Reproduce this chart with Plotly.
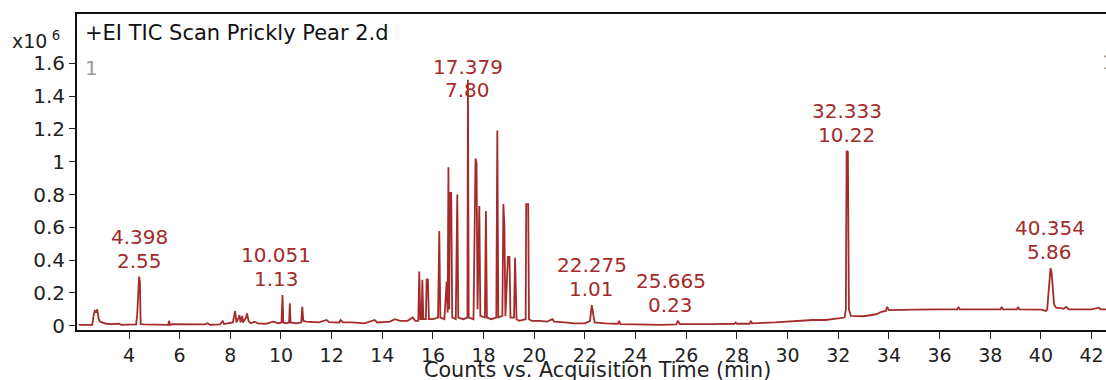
import plotly.graph_objects as go

# Chromatogram vertices: retention time (min) and intensity (x10^6 counts)
rt = [2.02, 2.55, 2.60, 2.65, 2.70, 2.74, 2.78, 2.80, 2.86, 2.95, 3.1, 3.3, 3.6, 3.7, 4.0, 4.28, 4.32, 4.36, 4.40, 4.43, 4.46,
      4.6, 5.0, 5.55, 5.58, 5.62, 5.7, 6.2, 6.5, 7.0, 7.1, 7.2, 7.6, 7.7, 7.75, 8.1, 8.19, 8.24, 8.33, 8.36, 8.40, 8.47, 8.50,
      8.62, 8.66, 8.72, 8.8, 8.95, 9.1, 9.4, 9.7, 9.9, 10.02, 10.06, 10.09, 10.2, 10.32, 10.35, 10.38, 10.6, 10.80, 10.84,
      10.88, 11.0, 11.5, 11.8, 11.9, 12.3, 12.35, 12.45, 12.8, 13.3, 13.7, 13.8, 14.3, 14.5, 14.7, 15.0, 15.2, 15.3, 15.42,
      15.46, 15.50, 15.55, 15.58, 15.62, 15.72, 15.75, 15.80, 15.84, 16.0, 16.2, 16.25, 16.29, 16.45, 16.54, 16.58, 16.61,
      16.64, 16.67, 16.72, 16.76, 16.9, 16.96, 17.0, 17.2, 17.36, 17.38, 17.41, 17.6, 17.68, 17.72, 17.76, 17.83, 17.87,
      18.05, 18.09, 18.13, 18.3, 18.5, 18.54, 18.58, 18.74, 18.78, 18.82, 18.86, 18.96, 19.02, 19.06, 19.2, 19.24, 19.30,
      19.4, 19.66, 19.68, 19.76, 19.79, 19.9, 20.2, 20.5, 20.72, 20.78, 21.2, 21.6, 22.0, 22.2, 22.27, 22.32, 22.38, 22.8,
      23.3, 23.35, 23.4, 24.0, 24.5, 25.0, 25.6, 25.67, 25.75, 26.5, 27.0, 27.9, 27.95, 28.0, 28.5, 28.55, 28.6, 29.5,
      30.0, 30.5, 31.0, 31.5, 32.0, 32.25, 32.30, 32.33, 32.38, 32.42, 32.5, 33.0, 33.5, 33.7, 33.88, 33.93, 34.0, 34.5,
      35.0, 36.0, 36.7, 36.75, 36.8, 38.0, 38.40, 38.45, 38.5, 39.05, 39.1, 39.15, 40.0, 40.2, 40.25, 40.3, 40.38, 40.42,
      40.47, 40.52, 40.6, 40.9, 41.0, 41.1, 42.0, 42.3, 42.35, 42.6]
intensity = [0.005, 0.005, 0.06, 0.09, 0.085, 0.10, 0.07, 0.04, 0.025, 0.02, 0.012, 0.01, 0.012, 0.005, 0.006, 0.008, 0.06,
             0.22, 0.30, 0.27, 0.01,
             0.008, 0.008, 0.005, 0.03, 0.005, 0.01, 0.008, 0.006, 0.008, 0.015, 0.006, 0.008, 0.03, 0.01, 0.02, 0.09,
             0.02, 0.05, 0.065, 0.02, 0.06, 0.02,
             0.05, 0.075, 0.03, 0.015, 0.025, 0.015, 0.012, 0.025, 0.015, 0.02, 0.187, 0.02, 0.015, 0.02, 0.137, 0.02,
             0.015, 0.02, 0.116,
             0.03, 0.025, 0.02, 0.035, 0.022, 0.02, 0.035, 0.02, 0.02, 0.015, 0.035, 0.02, 0.025, 0.04, 0.03, 0.03, 0.05,
             0.03, 0.03,
             0.33, 0.04, 0.04, 0.28, 0.04, 0.04, 0.285, 0.28, 0.04, 0.04, 0.05, 0.577, 0.05, 0.04, 0.27, 0.08, 0.966,
             0.1, 0.81, 0.81, 0.05, 0.04, 0.80, 0.05, 0.04, 0.05, 1.50, 0.05, 0.04, 1.02, 0.99, 0.1, 0.73, 0.06,
             0.05, 0.70, 0.05, 0.04, 0.05, 1.19, 0.05, 0.06, 0.742, 0.614, 0.06, 0.42, 0.42, 0.05, 0.05, 0.415, 0.04,
             0.03, 0.04, 0.742, 0.742, 0.04, 0.03, 0.03, 0.025, 0.04, 0.025, 0.02, 0.015, 0.015, 0.03, 0.126, 0.06, 0.02,
             0.015,
             0.012, 0.03, 0.01, 0.008, 0.005, 0.005, 0.008, 0.028, 0.01, 0.008, 0.01, 0.012, 0.02, 0.012, 0.012, 0.03,
             0.015, 0.02,
             0.025, 0.03, 0.035, 0.035, 0.045, 0.05, 0.1, 1.065, 1.06, 0.1, 0.06, 0.058, 0.07, 0.085, 0.09, 0.115, 0.095,
             0.095,
             0.098, 0.1, 0.1, 0.115, 0.1, 0.1, 0.1, 0.115, 0.1, 0.1, 0.115, 0.1, 0.098, 0.09, 0.1, 0.2, 0.35, 0.33,
             0.2, 0.13, 0.11, 0.105, 0.115, 0.1, 0.1, 0.11, 0.1, 0.1]

# Peak labels
label_rt = [4.398, 10.051, 17.379, 22.275, 25.665, 32.333, 40.354]
label_rt_text = ["4.398", "10.051", "17.379", "22.275", "25.665", "32.333", "40.354"]
label_area_text = ["2.55", "1.13", "7.80", "1.01", "0.23", "10.22", "5.86"]
label_peak_height = [0.30, 0.187, 1.50, 0.126, 0.028, 1.065, 0.35]

x_ticks = [4, 6, 8, 10, 12, 14, 16, 18, 20, 22, 24, 26, 28, 30, 32, 34, 36, 38, 40, 42]
y_ticks = [0, 0.2, 0.4, 0.6, 0.8, 1.0, 1.2, 1.4, 1.6]
y_tick_text = ["0", "0.2", "0.4", "0.6", "0.8", "1", "1.2", "1.4", "1.6"]
x_title = "Counts vs. Acquisition Time (min)"

RED = "#A52A2A"
FONT = "DejaVu Sans"

fig = go.Figure()
fig.add_trace(go.Scatter(x=rt, y=intensity, mode="lines",
                         line=dict(color=RED, width=1.8), hoverinfo="skip", showlegend=False))

# label offsets (pixels)
xshift = {10.051: -6, 25.665: -7}
for r, t1, t2, h in zip(label_rt, label_rt_text, label_area_text, label_peak_height):
    if r == 17.379:
        s1, s2 = 13, -10
    else:
        s1, s2 = 40, 16
    dx = xshift.get(r, 0)
    for txt, s in ((t1, s1), (t2, s2)):
        fig.add_annotation(x=r, y=h, xref="x", yref="y", text=txt, showarrow=False,
                           xanchor="center", yanchor="middle", yshift=s, xshift=dx,
                           font=dict(family=FONT, size=20, color=RED))

L, T, W, H = 77, 14, 1106, 380
PW, PH = W - L, 316


def px(xp):
    return (xp - L) / PW


def py(yp):
    return (T + PH - yp) / PH


fig.add_annotation(x=px(83), y=py(33), xref="paper", yref="paper", text="+EI TIC Scan Prickly Pear 2.d",
                   showarrow=False, xanchor="left", yanchor="middle",
                   font=dict(family=FONT, size=21, color="#111"))
fig.add_annotation(x=px(10), y=py(40), xref="paper", yref="paper", text="x10<sup> 6</sup>",
                   showarrow=False, xanchor="left", yanchor="middle",
                   font=dict(family=FONT, size=19, color="#222"))
fig.add_annotation(x=px(83), y=py(68), xref="paper", yref="paper", text="1",
                   showarrow=False, xanchor="left", yanchor="middle",
                   font=dict(family=FONT, size=20, color="#999"))
fig.add_annotation(x=px(1100), y=py(62), xref="paper", yref="paper", text="1",
                   showarrow=False, xanchor="left", yanchor="middle",
                   font=dict(family=FONT, size=20, color="#999"))
# x-axis title
fig.add_annotation(x=px(597), y=py(370), xref="paper", yref="paper", text=x_title,
                   showarrow=False, xanchor="center", yanchor="middle",
                   font=dict(family=FONT, size=20.7, color="#222"))

fig.update_layout(
    width=W, height=H,
    margin=dict(l=L, r=0, t=T, b=H - T - PH, pad=0),
    plot_bgcolor="white", paper_bgcolor="white",
    showlegend=False,
    xaxis=dict(range=[1.947, 42.57], tickvals=x_ticks, ticks="outside", ticklen=7, tickwidth=1,
               tickcolor="#222", showline=True, linecolor="#111", linewidth=2, mirror=True,
               showgrid=False, zeroline=False, automargin=False,
               tickfont=dict(family=FONT, size=19, color="#222")),
    yaxis=dict(range=[-0.026, 1.901], tickvals=y_ticks, ticktext=y_tick_text, ticks="outside", ticklen=6,
               tickwidth=1, tickcolor="#222", showline=True, linecolor="#111", linewidth=2,
               showgrid=False, zeroline=False, automargin=False,
               tickfont=dict(family=FONT, size=20, color="#222")),
)

fig.write_html("out.html", config={"displayModeBar": False},
               post_script="document.body.style.margin='0px';document.body.style.overflow='hidden';")
